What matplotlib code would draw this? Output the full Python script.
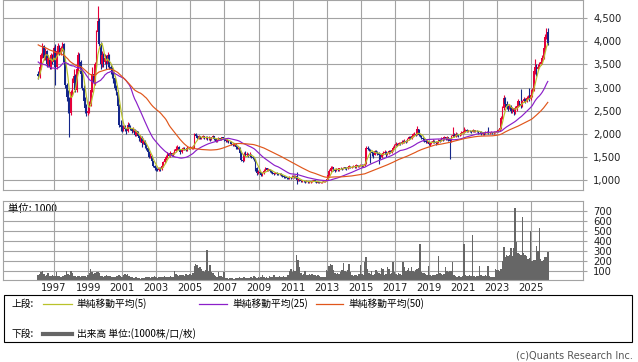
import numpy as np
import pandas as pd
import matplotlib
matplotlib.use("Agg")
import matplotlib.pyplot as plt
from matplotlib.lines import Line2D
from matplotlib.patches import Rectangle
from matplotlib.ticker import FuncFormatter

plt.rcParams['font.family'] = ['DejaVu Sans', 'Noto Sans CJK JP']
JP = ['Noto Sans CJK JP', 'DejaVu Sans']

# monthly candles, Jan 1996 .. Dec 2025
start_year = 1996

# Dec 1991 .. Dec 1995, off the chart, only feeds the moving averages
pre_closes = [4350,
              4400, 4300, 4250, 4200, 4350, 4400, 4300, 4250, 4200, 4300, 4350, 4250,
              4300, 4400, 4450, 4350, 4300, 4250, 4200, 4300, 4350, 4250, 4200, 4150,
              4100, 4050, 4000, 3950, 3900, 4000, 3950, 3900, 3950, 3850, 3800, 3850,
              3700, 3500, 3300, 3100, 3000, 2900, 3000, 3100, 3050, 3150, 3200, 3300]

opens = [
    3300, 3250, 3450, 3700, 3900, 3650, 3800, 3500, 3650, 3450, 3700, 3550,
    3850, 3450, 3800, 3900, 3750, 3850, 3950, 3550, 3050, 2800, 2750, 2450,
    2900, 3100, 3250, 2950, 3400, 3700, 3550, 3300, 3000, 2700, 2550, 2450,
    2500, 2650, 2950, 3300, 3100, 3500, 4200, 4450, 3950, 3500, 3700, 3550,
    3650, 3500, 3700, 3450, 3400, 3300, 3200, 3000, 2900, 2600, 2200, 2150,
    2100, 2150, 2100, 2050, 2200, 2150, 2100, 2050, 2100, 1980, 2050, 1950,
    1900, 1900, 1800, 1850, 1750, 1700, 1600, 1500, 1520, 1400, 1300, 1250,
    1230, 1220, 1260, 1230, 1300, 1380, 1450, 1500, 1560, 1520, 1580, 1540,
    1580, 1620, 1680, 1720, 1650, 1600, 1650, 1700, 1660, 1650, 1700, 1680,
    1700, 1700, 1720, 2000, 1950, 1900, 1950, 1900, 1920, 1950, 1900, 1930,
    1900, 1900, 1880, 1920, 1950, 1880, 1850, 1870, 1900, 1880, 1920, 1900,
    1880, 1850, 1860, 1820, 1830, 1780, 1760, 1780, 1720, 1680, 1700, 1580,
    1430, 1420, 1560, 1550, 1560, 1520, 1550, 1500, 1480, 1450, 1250, 1150,
    1180, 1150, 1100, 1150, 1200, 1250, 1220, 1230, 1200, 1180, 1150, 1130,
    1150, 1140, 1120, 1140, 1100, 1080, 1070, 1060, 1050, 1040, 1060, 1050,
    1080, 1070, 1080, 1000, 1010, 990, 980, 990, 970, 960, 970, 950,
    960, 960, 980, 990, 970, 940, 950, 945, 950, 960, 970, 990,
    1020, 1100, 1200, 1260, 1280, 1220, 1200, 1240, 1210, 1250, 1260, 1240,
    1270, 1260, 1250, 1280, 1290, 1270, 1290, 1300, 1280, 1320, 1300, 1310,
    1320, 1300, 1320, 1350, 1700, 1680, 1650, 1600, 1580, 1550, 1620, 1600,
    1580, 1550, 1500, 1560, 1580, 1600, 1550, 1580, 1620, 1600, 1650, 1700,
    1750, 1780, 1760, 1800, 1790, 1830, 1820, 1850, 1830, 1880, 1920, 1900,
    1960, 1990, 2000, 1980, 2100, 1980, 1950, 1900, 1880, 1850, 1820, 1830,
    1780, 1800, 1820, 1850, 1830, 1800, 1820, 1860, 1850, 1900, 1880, 1920,
    1900, 1920, 1880, 1850, 1950, 1980, 1960, 2000, 1980, 1970, 2000, 2020,
    2040, 2050, 2080, 2060, 2070, 2050, 2040, 2080, 2060, 2070, 2050, 2030,
    2040, 2000, 2020, 2010, 2030, 2040, 2010, 2020, 2030, 2010, 2030, 2040,
    2050, 2080, 2120, 2350, 2550, 2780, 2650, 2600, 2550, 2600, 2500, 2550,
    2480, 2550, 2600, 2700, 2650, 2600, 2700, 2750, 2700, 2780, 2800, 2750,
    2850, 2950, 3350, 3450, 3400, 3450, 3500, 3550, 3650, 3850, 4100, 4200,
]

highs = [
    3350, 3550, 3750, 3960, 3920, 3850, 3820, 3700, 3680, 3750, 3720, 3900,
    3950, 3850, 3960, 3920, 3900, 3990, 3960, 3600, 3100, 2950, 2800, 2950,
    3200, 3400, 3300, 3450, 3780, 3750, 3600, 3350, 3050, 2800, 2650, 2600,
    2700, 3000, 3450, 3400, 3550, 4250, 4770, 4500, 3980, 3800, 3750, 3720,
    3700, 3760, 3720, 3500, 3450, 3350, 3250, 3050, 2950, 2650, 2300, 2200,
    2200, 2180, 2130, 2250, 2230, 2180, 2120, 2150, 2100, 2080, 2060, 1980,
    1980, 1950, 1900, 1870, 1780, 1720, 1620, 1580, 1540, 1420, 1330, 1280,
    1260, 1290, 1280, 1320, 1400, 1480, 1530, 1600, 1580, 1620, 1590, 1600,
    1680, 1730, 1760, 1740, 1680, 1690, 1720, 1720, 1690, 1730, 1720, 1730,
    1730, 1750, 2020, 2010, 1980, 1970, 1960, 1940, 1980, 1960, 1950, 1950,
    1960, 1930, 1940, 1980, 1960, 1900, 1890, 1920, 1910, 1940, 1930, 1910,
    1890, 1880, 1870, 1850, 1840, 1800, 1800, 1790, 1740, 1720, 1710, 1600,
    1470, 1600, 1620, 1600, 1580, 1600, 1560, 1520, 1490, 1460, 1280, 1220,
    1200, 1160, 1170, 1230, 1290, 1260, 1250, 1240, 1210, 1190, 1160, 1170,
    1170, 1150, 1160, 1150, 1110, 1090, 1080, 1070, 1060, 1080, 1070, 1100,
    1100, 1110, 1180, 1030, 1020, 1000, 1000, 1000, 980, 990, 980, 970,
    975, 995, 1010, 995, 975, 960, 960, 960, 970, 985, 1000, 1030,
    1110, 1230, 1300, 1310, 1290, 1240, 1260, 1250, 1270, 1280, 1270, 1290,
    1290, 1280, 1300, 1320, 1300, 1310, 1320, 1310, 1340, 1330, 1330, 1340,
    1340, 1340, 1380, 1730, 1740, 1700, 1670, 1620, 1600, 1650, 1640, 1620,
    1600, 1570, 1590, 1620, 1640, 1620, 1600, 1650, 1640, 1680, 1730, 1780,
    1820, 1800, 1830, 1820, 1860, 1860, 1880, 1870, 1900, 1960, 1950, 1990,
    2020, 2040, 2030, 2170, 2110, 2000, 1970, 1920, 1900, 1880, 1860, 1850,
    1830, 1850, 1880, 1870, 1850, 1850, 1890, 1880, 1930, 1920, 1960, 1940,
    1960, 1940, 1900, 1980, 2150, 2010, 2030, 2020, 2000, 2020, 2050, 2070,
    2150, 2100, 2100, 2090, 2090, 2070, 2100, 2090, 2090, 2080, 2060, 2060,
    2060, 2040, 2040, 2050, 2060, 2150, 2040, 2050, 2040, 2050, 2060, 2070,
    2100, 2150, 2380, 2600, 2850, 2800, 2700, 2620, 2650, 2620, 2580, 2560,
    2600, 2650, 2750, 2720, 2980, 2740, 2800, 2780, 2820, 2850, 2990, 2880,
    3000, 3400, 3610, 3500, 3500, 3560, 3600, 3700, 3900, 4150, 4290, 4280,
]

lows = [
    3180, 3200, 3400, 3650, 3600, 3600, 3450, 3450, 3400, 3400, 3500, 3500,
    3050, 3400, 3750, 3700, 3700, 3800, 3500, 3000, 2700, 2450, 1930, 2400,
    2850, 3000, 2900, 2900, 3350, 3450, 3250, 2950, 2650, 2450, 2380, 2400,
    2450, 2600, 2900, 3050, 3050, 3450, 4150, 3900, 3400, 3450, 3450, 3500,
    3400, 3450, 3400, 3300, 3200, 3100, 2950, 2850, 2550, 2150, 2050, 2030,
    2050, 2070, 2000, 2030, 2120, 2080, 2020, 2030, 1950, 1960, 1920, 1850,
    1820, 1720, 1780, 1700, 1650, 1570, 1480, 1480, 1380, 1280, 1220, 1200,
    1190, 1200, 1200, 1220, 1290, 1370, 1430, 1480, 1490, 1500, 1520, 1520,
    1560, 1600, 1650, 1620, 1570, 1580, 1640, 1640, 1620, 1630, 1660, 1660,
    1660, 1680, 1700, 1920, 1880, 1880, 1880, 1880, 1900, 1880, 1880, 1870,
    1860, 1850, 1860, 1900, 1860, 1820, 1830, 1860, 1860, 1870, 1880, 1850,
    1830, 1830, 1800, 1800, 1760, 1740, 1740, 1660, 1660, 1660, 1560, 1400,
    1380, 1400, 1520, 1520, 1500, 1500, 1480, 1460, 1400, 1200, 1100, 1120,
    1120, 1080, 1090, 1140, 1190, 1200, 1200, 1180, 1160, 1130, 1110, 1120,
    1110, 1100, 1110, 1090, 1060, 1050, 1040, 1030, 1020, 1030, 1030, 1040,
    1050, 1050, 920, 980, 970, 960, 960, 950, 940, 950, 930, 940,
    940, 950, 970, 950, 930, 930, 935, 935, 945, 950, 960, 985,
    1010, 1090, 1180, 1230, 1200, 1170, 1190, 1190, 1200, 1230, 1220, 1230,
    1230, 1220, 1240, 1260, 1250, 1260, 1280, 1260, 1270, 1280, 1290, 1300,
    1280, 1290, 1310, 1340, 1640, 1620, 1360, 1520, 1480, 1530, 1580, 1550,
    1340, 1450, 1480, 1540, 1560, 1500, 1530, 1570, 1580, 1590, 1630, 1690,
    1730, 1730, 1750, 1760, 1780, 1790, 1800, 1800, 1820, 1860, 1880, 1890,
    1940, 1960, 1950, 1970, 1960, 1920, 1880, 1850, 1820, 1790, 1790, 1750,
    1740, 1780, 1800, 1800, 1760, 1780, 1800, 1820, 1840, 1850, 1870, 1870,
    1870, 1850, 1450, 1820, 1930, 1930, 1940, 1950, 1940, 1950, 1980, 2000,
    2020, 2030, 2040, 2040, 2030, 2010, 2030, 2040, 2040, 2030, 2000, 2010,
    1970, 1980, 1980, 2000, 2010, 1990, 1990, 2010, 1990, 2000, 2020, 2030,
    2040, 2060, 2100, 2330, 2520, 2580, 2540, 2500, 2530, 2450, 2460, 2400,
    2420, 2500, 2580, 2600, 2560, 2580, 2680, 2660, 2690, 2750, 2700, 2730,
    2800, 2920, 3300, 3250, 3380, 3420, 3480, 3500, 3620, 3800, 4050, 3920,
]

closes = [
    3250, 3450, 3700, 3900, 3650, 3800, 3500, 3650, 3450, 3700, 3550, 3850,
    3450, 3800, 3900, 3750, 3850, 3950, 3550, 3050, 2800, 2750, 2450, 2900,
    3100, 3250, 2950, 3400, 3700, 3550, 3300, 3000, 2700, 2550, 2450, 2500,
    2650, 2950, 3300, 3100, 3500, 4200, 4450, 3950, 3500, 3700, 3550, 3650,
    3500, 3700, 3450, 3400, 3300, 3200, 3000, 2900, 2600, 2200, 2150, 2100,
    2150, 2100, 2050, 2200, 2150, 2100, 2050, 2100, 1980, 2050, 1950, 1900,
    1900, 1800, 1850, 1750, 1700, 1600, 1500, 1520, 1400, 1300, 1250, 1230,
    1220, 1260, 1230, 1300, 1380, 1450, 1500, 1560, 1520, 1580, 1540, 1580,
    1620, 1680, 1720, 1650, 1600, 1650, 1700, 1660, 1650, 1700, 1680, 1700,
    1700, 1720, 2000, 1950, 1900, 1950, 1900, 1920, 1950, 1900, 1930, 1900,
    1900, 1880, 1920, 1950, 1880, 1850, 1870, 1900, 1880, 1920, 1900, 1880,
    1850, 1860, 1820, 1830, 1780, 1760, 1780, 1720, 1680, 1700, 1580, 1430,
    1420, 1560, 1550, 1560, 1520, 1550, 1500, 1480, 1450, 1250, 1150, 1180,
    1150, 1100, 1150, 1200, 1250, 1220, 1230, 1200, 1180, 1150, 1130, 1150,
    1140, 1120, 1140, 1100, 1080, 1070, 1060, 1050, 1040, 1060, 1050, 1080,
    1070, 1080, 1000, 1010, 990, 980, 990, 970, 960, 970, 950, 960,
    960, 980, 990, 970, 940, 950, 945, 950, 960, 970, 990, 1020,
    1100, 1200, 1260, 1280, 1220, 1200, 1240, 1210, 1250, 1260, 1240, 1270,
    1260, 1250, 1280, 1290, 1270, 1290, 1300, 1280, 1320, 1300, 1310, 1320,
    1300, 1320, 1350, 1700, 1680, 1650, 1600, 1580, 1550, 1620, 1600, 1580,
    1550, 1500, 1560, 1580, 1600, 1550, 1580, 1620, 1600, 1650, 1700, 1750,
    1780, 1760, 1800, 1790, 1830, 1820, 1850, 1830, 1880, 1920, 1900, 1960,
    1990, 2000, 1980, 2100, 1980, 1950, 1900, 1880, 1850, 1820, 1830, 1780,
    1800, 1820, 1850, 1830, 1800, 1820, 1860, 1850, 1900, 1880, 1920, 1900,
    1920, 1880, 1850, 1950, 1980, 1960, 2000, 1980, 1970, 2000, 2020, 2040,
    2050, 2080, 2060, 2070, 2050, 2040, 2080, 2060, 2070, 2050, 2030, 2040,
    2000, 2020, 2010, 2030, 2040, 2010, 2020, 2030, 2010, 2030, 2040, 2050,
    2080, 2120, 2350, 2550, 2780, 2650, 2600, 2550, 2600, 2500, 2550, 2480,
    2550, 2600, 2700, 2650, 2600, 2700, 2750, 2700, 2780, 2800, 2750, 2850,
    2950, 3350, 3450, 3400, 3450, 3500, 3550, 3650, 3850, 4100, 4200, 3950,
]

# volume, unit 1000
volumes = [
    60, 75, 90, 100, 70, 55, 60, 85, 55, 50, 60, 55,
    50, 95, 55, 50, 45, 50, 55, 60, 100, 70, 60, 100,
    80, 55, 50, 45, 50, 55, 45, 50, 50, 55, 45, 60,
    80, 120, 90, 70, 85, 95, 90, 80, 55, 50, 45, 50,
    60, 55, 50, 55, 45, 40, 45, 50, 55, 60, 50, 45,
    65, 70, 60, 75, 50, 45, 40, 35, 30, 40, 35, 30,
    25, 30, 35, 30, 40, 45, 40, 35, 40, 45, 50, 40,
    35, 40, 45, 40, 45, 50, 45, 40, 45, 50, 45, 40,
    100, 70, 60, 55, 60, 65, 60, 55, 70, 60, 65, 70,
    60, 80, 150, 170, 160, 130, 140, 120, 100, 90, 110, 310,
    100, 160, 90, 85, 60, 50, 45, 90, 55, 50, 45, 95,
    35, 30, 25, 30, 30, 35, 25, 30, 35, 30, 40, 35,
    30, 40, 35, 30, 35, 30, 40, 35, 50, 40, 35, 45,
    35, 40, 60, 45, 35, 40, 35, 50, 45, 40, 60, 40,
    45, 40, 50, 45, 40, 50, 45, 40, 60, 100, 120, 90,
    110, 100, 260, 210, 145, 80, 60, 70, 100, 65, 60, 70,
    60, 70, 65, 60, 55, 60, 50, 45, 40, 45, 40, 110,
    100, 150, 170, 160, 110, 80, 70, 80, 75, 90, 110, 180,
    100, 90, 110, 170, 90, 60, 55, 65, 60, 55, 70, 160,
    70, 60, 190, 240, 120, 80, 70, 100, 60, 70, 110, 90,
    80, 70, 130, 120, 60, 70, 140, 120, 70, 80, 190, 90,
    70, 60, 80, 70, 60, 190, 140, 100, 110, 130, 100, 140,
    100, 90, 110, 120, 130, 370, 90, 80, 85, 70, 60, 150,
    60, 55, 60, 65, 60, 70, 250, 80, 70, 65, 75, 140,
    100, 95, 105, 100, 190, 60, 50, 45, 55, 50, 45, 50,
    370, 60, 50, 55, 60, 50, 460, 55, 45, 50, 55, 150,
    60, 55, 50, 60, 55, 150, 50, 45, 40, 45, 120, 110,
    110, 100, 120, 200, 340, 240, 260, 250, 260, 330, 250, 330,
    735, 390, 280, 270, 260, 640, 280, 260, 250, 220, 230, 500,
    200, 210, 210, 350, 300, 530, 220, 200, 210, 245, 240, 290,
]

ma_windows = [5, 25, 50]
year_ticks = list(range(1997, 2026, 2))

RED = '#e5003a'
BLUE = '#14268a'
MA_COLORS = ['#b9c22a', '#8b1fc9', '#e0561b']
GRID = '#a3a3a3'
VOL = '#666666'

o = np.array(opens, float)
h = np.array(highs, float)
l = np.array(lows, float)
c = np.array(closes, float)
v = np.array(volumes, float)
n = len(c)
t = start_year + (np.arange(n) + 0.8) / 12.0

full = pd.Series(pre_closes + closes, dtype=float)
mas = [full.rolling(w).mean().to_numpy()[-n:] for w in ma_windows]

fig = plt.figure(figsize=(6.38, 3.62), dpi=100)
W, H = 638.0, 362.0


def px_axes(left, top, right, bottom):
    return fig.add_axes([left / W, 1 - bottom / H, (right - left) / W, (bottom - top) / H])


ax1 = px_axes(3, 0, 583, 190)
ax2 = px_axes(3, 201, 583, 280)

xlim = (1994.0, 2028.05)

# price panel
up = c >= o
cols = np.where(up, RED, BLUE)
ax1.vlines(t, l, h, colors=cols, lw=0.8, zorder=2)
body = np.maximum(np.abs(c - o), 12)
ax1.bar(t, body, bottom=np.minimum(o, c), width=0.09, color=cols, lw=0, zorder=2)
for ma, col in zip(mas, MA_COLORS):
    ax1.plot(t, ma, color=col, lw=0.85, zorder=3)

ax1.set_xlim(*xlim)
ax1.set_ylim(783, 4896)
ax1.set_xticks(year_ticks)
ax1.set_yticks(range(1000, 4501, 500))
ax1.yaxis.tick_right()
ax1.yaxis.set_major_formatter(FuncFormatter(lambda y, _: f'{int(y):,}'))
ax1.tick_params(axis='x', length=0, labelbottom=False)
ax1.tick_params(axis='y', length=3, width=0.8, color=GRID, pad=4.3, labelsize=7.2, labelcolor='#222222')
ax1.grid(True, color=GRID, lw=0.8)
ax1.set_axisbelow(True)

# volume panel
ax2.bar(t, v, width=1 / 12, color=VOL, lw=0, zorder=2)
ax2.set_xlim(*xlim)
ax2.set_ylim(10, 800)
ax2.set_xticks(year_ticks)
ax2.set_yticks(range(100, 701, 100))
ax2.yaxis.tick_right()
ax2.tick_params(axis='x', length=0, pad=2.2, labelsize=7.2, labelcolor='#222222')
ax2.tick_params(axis='y', length=3, width=0.8, color=GRID, pad=4.3, labelsize=7.2, labelcolor='#222222')
ax2.grid(True, color=GRID, lw=0.8)
ax2.set_axisbelow(True)
ax2.text(0.008, 0.895, '単位: 1000', transform=ax2.transAxes, fontsize=7.5,
         family=JP, va='center', ha='left', zorder=0.2)

for ax in (ax1, ax2):
    for s in ax.spines.values():
        s.set_color(GRID)
        s.set_linewidth(0.8)

# legend box under the chart
fig.patches.append(Rectangle((3.5 / W, 1 - 341.5 / H), 628.5 / W, 46.5 / H,
                             transform=fig.transFigure, fill=False, ec='black', lw=0.8))


def fx(px):
    return px / W


def fy(py):
    return 1 - py / H


row1, row2 = 304, 334
fig.text(fx(12), fy(row1), '上段:', fontsize=7, family=JP, va='center')
legend_items = [(43, 72, 76, '単純移動平均(5)'),
                (199, 227, 232, '単純移動平均(25)'),
                (316, 343, 348, '単純移動平均(50)')]
for (x0, x1, xt, label), col in zip(legend_items, MA_COLORS):
    fig.lines.append(Line2D([fx(x0), fx(x1)], [fy(row1), fy(row1)], transform=fig.transFigure,
                            color=col, lw=0.9))
    fig.text(fx(xt), fy(row1), label, fontsize=7, family=JP, va='center')

fig.text(fx(12), fy(row2), '下段:', fontsize=7, family=JP, va='center')
fig.lines.append(Line2D([fx(43), fx(72)], [fy(row2), fy(row2)], transform=fig.transFigure,
                        color=VOL, lw=3))
fig.text(fx(77), fy(row2), '出来高 単位:(1000株/口/枚)', fontsize=7, family=JP, va='center')

fig.text(fx(633), fy(356), '(c)Quants Research Inc.', fontsize=7, color='#555555',
         ha='right', va='center')

fig.savefig('out.png', dpi=100)
